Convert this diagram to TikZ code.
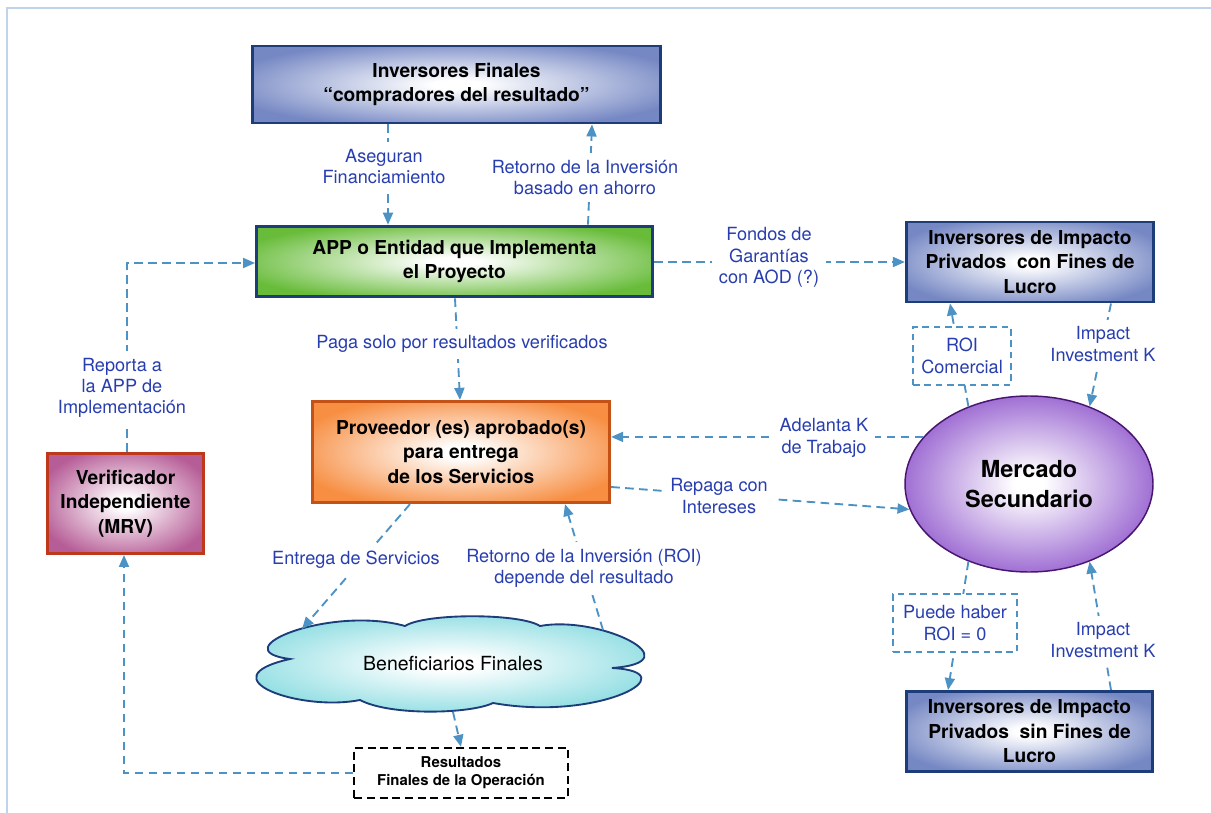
\documentclass[tikz,border=0pt]{standalone}
\usepackage{fontspec}
\setmainfont{TeX Gyre Heros}
\usetikzlibrary{arrows.meta,shapes.geometric,calc}

% palette
\definecolor{navy}{RGB}{28,60,122}
\definecolor{boxblue}{RGB}{118,136,196}
\definecolor{boxgreen}{RGB}{104,188,58}
\definecolor{boxpink}{RGB}{182,92,150}
\definecolor{pinkedge}{RGB}{190,56,28}
\definecolor{boxorange}{RGB}{247,142,66}
\definecolor{orangeedge}{RGB}{196,82,22}
\definecolor{boxpurple}{RGB}{160,112,212}
\definecolor{purpleedge}{RGB}{72,22,112}
\definecolor{boxcyan}{RGB}{118,214,220}
\definecolor{linkblue}{RGB}{76,146,196}
\definecolor{lblblue}{RGB}{40,62,176}
\definecolor{framec}{RGB}{192,210,236}

% radial fills, white in the middle
\pgfdeclareradialshading{fadeblue}{\pgfpoint{0bp}{0bp}}{color(0bp)=(white); color(3bp)=(white); color(29bp)=(boxblue); color(50bp)=(boxblue)}
\pgfdeclareradialshading{fadegreen}{\pgfpoint{0bp}{0bp}}{color(0bp)=(white); color(3bp)=(white); color(29bp)=(boxgreen); color(50bp)=(boxgreen)}
\pgfdeclareradialshading{fadepink}{\pgfpoint{0bp}{0bp}}{color(0bp)=(white); color(3bp)=(white); color(29bp)=(boxpink); color(50bp)=(boxpink)}
\pgfdeclareradialshading{fadeorange}{\pgfpoint{0bp}{0bp}}{color(0bp)=(white); color(3bp)=(white); color(29bp)=(boxorange); color(50bp)=(boxorange)}
\pgfdeclareradialshading{fadepurple}{\pgfpoint{0bp}{0bp}}{color(0bp)=(white); color(3bp)=(white); color(25bp)=(boxpurple); color(50bp)=(boxpurple)}
\pgfdeclareradialshading{fadecyan}{\pgfpoint{0bp}{0bp}}{color(0bp)=(white); color(3bp)=(white); color(27bp)=(boxcyan); color(50bp)=(boxcyan)}

\newcommand{\bxfont}{\fontsize{14.4}{18.4}\selectfont\bfseries}
\newcommand{\lbfont}{\fontsize{13.6}{16}\selectfont}

\tikzset{
  box/.style={draw=navy, line width=2.2pt, align=center, inner sep=0pt,
    font=\bxfont, text=black, shade},
  bluebox/.style={box, shading=fadeblue},
  conn/.style={draw=linkblue, line width=1.4pt, dash pattern=on 6.5pt off 4pt,
    -{Triangle[length=9pt,width=7.5pt]}},
  lbl/.style={fill=white, text=lblblue, font=\lbfont, align=center, inner sep=5pt},
  dlbl/.style={lbl, draw=linkblue, line width=1.1pt, dash pattern=on 5pt off 3.5pt,
    inner sep=0pt},
}

\begin{document}
\begin{tikzpicture}[x=0.75pt,y=-0.75pt]
\useasboundingbox (0,0) rectangle (1211,813);

% page frame
\draw[framec, line width=1.6pt] (7,813) -- (7,8) -- (1211,8);

% main blocks
\node[bluebox, minimum width=306pt, minimum height=57.75pt] (inv) at (456.5,84.5)
  {Inversores Finales\\``compradores del resultado''};
\node[box, shading=fadegreen, minimum width=297pt, minimum height=53pt] (app) at (454.5,261.5)
  {APP o Entidad que Implementa\\el Proyecto};
\node[box, shading=fadepink, draw=pinkedge, minimum width=117pt, minimum height=75pt] (ver) at (125.5,503.5)
  {Verificador\\Independiente\\(MRV)};
\node[box, shading=fadeorange, draw=orangeedge, minimum width=223pt, minimum height=76pt] (prov) at (461,452)
  {Proveedor (es) aprobado(s)\\para entrega\\de los Servicios};
\node[bluebox, minimum width=185.5pt, minimum height=60pt] (ipl) at (1030,262)
  {Inversores de Impacto\\Privados\ \ con Fines de\\Lucro};
\node[bluebox, minimum width=185pt, minimum height=60pt] (ipn) at (1029.5,731.5)
  {Inversores de Impacto\\Privados\ \ sin Fines de\\Lucro};
\node[ellipse, draw=purpleedge, line width=1.1pt, shade, shading=fadepurple,
  minimum width=186pt, minimum height=132pt, inner sep=0pt, align=center,
  font=\fontsize{17.6}{22.5}\selectfont\bfseries] (ell) at (1029,484)
  {Mercado\\Secundario};

% beneficiaries cloud: six puffs meeting in inward cusps
\shadedraw[draw=navy, line width=1.4pt, shading=fadecyan]
  (290,659) .. controls (220,650) and (330,605) .. (405,626)
            .. controls (425,613) and (520,613) .. (540,626)
            .. controls (600,615) and (695,662) .. (612,668)
            .. controls (690,672) and (600,722) .. (493,703)
            .. controls (470,714) and (390,716) .. (360,700)
            .. controls (300,712) and (205,678) .. cycle;
\node[font=\fontsize{14.6}{17}\selectfont, inner sep=2pt] (cloud) at (453,664)
  {Beneficiarios Finales};
\coordinate (cloudNW) at (302,629);
\coordinate (cloudNE) at (603,630);
\coordinate (cloudS) at (453,712);

\node[draw=black, line width=1.3pt, dash pattern=on 6pt off 3.5pt, align=center,
  minimum width=160pt, minimum height=38pt, inner sep=0pt,
  font=\fontsize{11.2}{13.5}\selectfont\bfseries] (res) at (461,773)
  {Resultados\\Finales de la Operación};

% connectors
\draw[conn] (inv.south -| 388,0) -- (app.north -| 388,0);
\draw[conn] (app.north -| 588,0) -- (inv.south -| 592,0);
\draw[conn] (ver.north -| 127,0) |- (app.west |- 0,263);
\draw[conn] (app.east |- 0,262) -- (ipl.west |- 0,262);
\draw[conn] (app.south -| 455,0) -- (prov.north -| 460,0);
\draw[conn] (ell.156) -- (prov.east |- ell.156);
\draw[conn] (prov.east |- 0,487) -- (ell.192);
\draw[conn] (ell.128) -- (ipl.south -| 950,0);
\draw[conn] (ipl.south -| 1111,0) -- (ell.52);
\draw[conn] (ell.232) -- (ipn.north -| 948,0);
\draw[conn] (ipn.north -| 1111,0) -- (ell.308);
\draw[conn] (prov.south -| 410,0) -- (cloudNW);
\draw[conn] (cloudNE) -- (prov.south -| 565,0);
\draw[conn] (cloudS) -- (res.north -| 461,0);
\draw[conn] (res.west |- 0,773) -| (ver.south -| 124,0);

% connector labels
\node[lbl] (l1) at (384,166.5) {Aseguran\\Financiamiento};
\node[lbl] (l2) at (585,177.5) {Retorno de la Inversión\\basado en ahorro};
\node[lbl] (l3) at (769,257.5) {Fondos de\\Garantías\\con AOD (?)};
\node[lbl] (l4) at (462,344) {Paga solo por resultados verificados};
\node[lbl] (l5) at (122,388) {Reporta a\\la APP de\\Implementación};
\node[lbl] (l6) at (824,438) {Adelanta K\\de Trabajo};
\node[lbl] (l7) at (719,496) {Repaga con\\Intereses};
\node[lbl] (l8) at (1103,344) {Impact\\Investment K};
\node[lbl] (l9) at (1103,640) {Impact\\Investment K};
\node[lbl] (l10) at (356,560) {Entrega de Servicios};
\node[lbl] (l11) at (584,568.5) {Retorno de la Inversión (ROI)\\depende del resultado};
\node[dlbl, minimum width=73.5pt, minimum height=43.5pt] (roi) at (962,356)
  {ROI\\Comercial};
\node[dlbl, minimum width=93pt, minimum height=43.5pt] (roz) at (955,623)
  {Puede haber\\ROI = 0};
\end{tikzpicture}
\end{document}
